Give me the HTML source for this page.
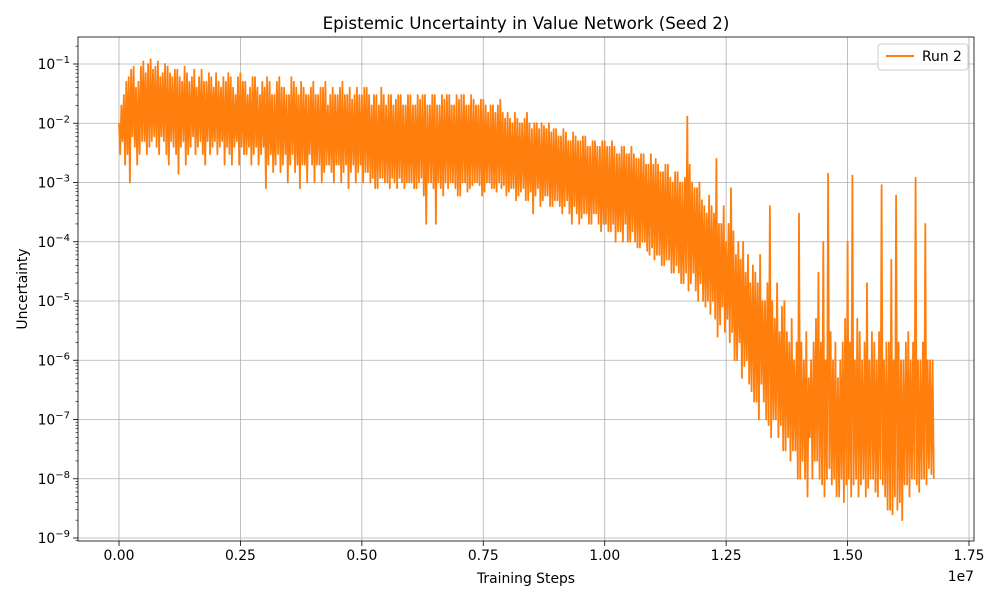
<!DOCTYPE html>
<html><head><meta charset="utf-8">
<style>
body{margin:0;background:#fff;width:1000px;height:600px;overflow:hidden}
svg text{font-family:"DejaVu Sans","Liberation Sans",sans-serif;fill:#000}
</style></head>
<body>
<svg id="chart" width="1000" height="600" viewBox="0 0 1000 600" xmlns="http://www.w3.org/2000/svg">
<rect x="0" y="0" width="1000" height="600" fill="#fff"/>
<g id="grid"></g>
<g id="series"></g>
<g id="axes"></g>
<text x="526" y="29" font-size="16.7" text-anchor="middle">Epistemic Uncertainty in Value Network (Seed 2)</text>
<text x="526" y="583" font-size="13.9" text-anchor="middle">Training Steps</text>
<text x="27" y="289" font-size="13.9" text-anchor="middle" transform="rotate(-90 27 289)">Uncertainty</text>
<text x="974" y="581" font-size="13.9" text-anchor="end">1e7</text>
<g>
<rect x="878" y="44" width="90" height="26" rx="3" fill="#fff" fill-opacity="0.8" stroke="#ccc"/>
<line x1="886" y1="56" x2="914" y2="56" stroke="#ff7f0e" stroke-width="2"/>
<text x="922" y="61" font-size="13.9">Run 2</text>
</g>
</svg>
<script>
const xTicks=[0,0.25,0.5,0.75,1.0,1.25,1.5,1.75];
const xTickLabels=["0.00","0.25","0.50","0.75","1.00","1.25","1.50","1.75"];
const yTickExps=[-1,-2,-3,-4,-5,-6,-7,-8,-9];
const stepSize=1e5;
const hiValues=[1e-2,3e-2,6e-2,9e-2,5e-2,1.1e-1,1e-1,8e-2,1.1e-1,7e-2,
9e-2,6e-2,8e-2,5e-2,7e-2,6e-2,4e-2,8e-2,5e-2,6e-2,
7e-2,4e-2,5e-2,6e-2,3e-2,7e-2,5e-2,4e-2,6e-2,3e-2,
4e-2,5e-2,3e-2,6e-2,4e-2,3e-2,5e-2,3e-2,4e-2,3e-2,
5e-2,3e-2,4e-2,2e-2,4e-2,3e-2,5e-2,3e-2,2.5e-2,4e-2,
3e-2,4e-2,2e-2,3e-2,4e-2,2e-2,3e-2,2.5e-2,3e-2,2e-2,
3e-2,2e-2,2.5e-2,3e-2,2e-2,3e-2,2e-2,2.5e-2,3e-2,2e-2,
2.5e-2,3e-2,2e-2,2.5e-2,2e-2,2.5e-2,1.5e-2,2e-2,2e-2,1.5e-2,
1.5e-2,1e-2,1.2e-2,1e-2,1.5e-2,8e-3,1e-2,1e-2,8e-3,7e-3,
8e-3,6e-3,7e-3,5e-3,6e-3,5e-3,6e-3,4e-3,5e-3,4e-3,
5e-3,4e-3,4e-3,3e-3,4e-3,3e-3,3e-3,2.5e-3,3e-3,2e-3,
2e-3,2e-3,1.5e-3,2e-3,1e-3,1.5e-3,1e-3,1.3e-2,1e-3,8e-4,
5e-4,3e-4,4e-4,2.5e-3,2e-4,1e-4,8e-4,6e-5,5e-5,3e-5,
2e-5,3e-5,6e-5,1e-5,4e-4,5e-6,3e-6,1e-5,2e-6,1e-6,
3e-4,1e-6,5e-7,2e-6,3e-5,1e-4,1.4e-3,1e-6,5e-7,2e-6,
1e-4,1.3e-3,5e-6,1e-6,2e-5,3e-6,1e-6,9e-4,2e-6,5e-5,
6e-4,1e-6,2e-6,1e-6,1.2e-3,1e-6,2e-4,1e-6];
const loValues=[3e-3,2e-3,1e-3,4e-3,3e-3,5e-3,4e-3,6e-3,3e-3,5e-3,
2e-3,4e-3,1.4e-3,5e-3,3e-3,6e-3,4e-3,3e-3,5e-3,4e-3,
3e-3,5e-3,4e-3,2e-3,5e-3,4e-3,3e-3,2e-3,4e-3,3e-3,
8e-4,3e-3,2e-3,1.5e-3,3e-3,2e-3,1.5e-3,8e-4,2e-3,3e-3,
1e-3,2e-3,1.5e-3,2e-3,1e-3,2e-3,1.5e-3,8e-4,2e-3,1.5e-3,
1e-3,1.5e-3,1.2e-3,8e-4,1.2e-3,1e-3,1.2e-3,8e-4,1e-3,1e-3,
1e-3,8e-4,1.2e-3,2e-4,1e-3,2e-4,8e-4,1e-3,1e-3,8e-4,
6e-4,1e-3,8e-4,1e-3,9e-4,7e-4,1e-3,8e-4,1e-3,9e-4,
7e-4,8e-4,6e-4,8e-4,5e-4,3e-4,8e-4,5e-4,6e-4,4e-4,
5e-4,3e-4,5e-4,2e-4,3e-4,2.5e-4,3e-4,2e-4,3e-4,1.5e-4,
2e-4,1.5e-4,1e-4,1.5e-4,2e-4,1e-4,1e-4,8e-5,1e-4,6e-5,
5e-5,6e-5,4e-5,5e-5,3e-5,3e-5,2e-5,1.5e-5,3e-5,1e-5,
1e-5,1e-5,1e-5,2.5e-6,8e-6,5e-6,3e-6,1e-6,5e-7,1e-6,
3e-7,2e-7,4e-7,1e-7,5e-8,1e-7,8e-8,3e-8,2e-8,3e-8,
1e-8,1e-8,5e-8,2e-8,1e-8,5e-9,1.5e-8,1e-8,5e-9,4e-9,
1e-8,8e-9,5e-9,1e-8,7e-9,1e-8,5e-9,8e-9,3e-9,2.5e-9,
3e-9,2e-9,8e-9,1e-8,8e-9,1e-8,8e-9,1.2e-8];
const hi2Values=[2e-2,5e-2,8e-2,4e-2,9e-2,7e-2,1.2e-1,9e-2,6e-2,1e-1,
7e-2,8e-2,6e-2,9e-2,5e-2,8e-2,6e-2,5e-2,7e-2,4e-2,
5e-2,6e-2,7e-2,4e-2,6e-2,5e-2,3e-2,6e-2,4e-2,5e-2,
6e-2,3e-2,5e-2,4e-2,3e-2,6e-2,4e-2,5e-2,3e-2,4e-2,
3e-2,4e-2,5e-2,3e-2,3e-2,4e-2,3e-2,4e-2,3e-2,3e-2,
4e-2,3e-2,3e-2,2e-2,3e-2,3e-2,2e-2,3e-2,2e-2,3e-2,
2e-2,3e-2,3e-2,2e-2,3e-2,2e-2,3e-2,3e-2,2e-2,3e-2,
3e-2,2e-2,3e-2,2e-2,2.5e-2,2e-2,2e-2,1.5e-2,2.5e-2,1.2e-2,
1.2e-2,1.5e-2,1e-2,1.2e-2,1e-2,1e-2,8e-3,9e-3,1e-2,8e-3,
6e-3,8e-3,5e-3,7e-3,5e-3,6e-3,4e-3,5e-3,4e-3,5e-3,
4e-3,5e-3,3e-3,4e-3,3e-3,4e-3,2.5e-3,3e-3,2e-3,3e-3,
2.5e-3,1.5e-3,2e-3,1.2e-3,1.5e-3,1e-3,1.2e-3,2e-3,8e-4,1e-3,
4e-4,6e-4,3e-4,2e-4,4e-4,2e-4,1.5e-4,1e-4,1e-4,6e-5,
4e-5,2e-5,1e-5,2e-5,1e-5,2e-5,8e-6,3e-6,5e-6,2e-6,
2e-6,3e-6,1e-6,5e-6,2e-6,1e-6,3e-6,2e-6,1e-6,5e-6,
2e-6,1e-6,3e-6,2e-6,1e-6,2e-6,3e-6,1e-6,2e-6,1e-6,
2e-6,1e-6,3e-6,2e-6,1e-6,2e-6,1e-6,1e-6];
const lo2Values=[5e-3,3e-3,6e-3,2e-3,5e-3,3e-3,5e-3,4e-3,6e-3,3e-3,
5e-3,3e-3,4e-3,2e-3,4e-3,3e-3,5e-3,2e-3,3e-3,5e-3,
4e-3,2e-3,3e-3,4e-3,2e-3,3e-3,4e-3,3e-3,2e-3,4e-3,
2e-3,1.5e-3,3e-3,2e-3,1e-3,3e-3,2e-3,2e-3,1e-3,2e-3,
2e-3,1e-3,2e-3,1.5e-3,2e-3,1e-3,2e-3,1.5e-3,1e-3,2e-3,
1.5e-3,1e-3,8e-4,1.2e-3,1e-3,8e-4,1e-3,1.2e-3,8e-4,1e-3,
8e-4,1e-3,6e-4,1e-3,8e-4,1e-3,6e-4,8e-4,1e-3,6e-4,
1e-3,7e-4,9e-4,1e-3,6e-4,1e-3,8e-4,7e-4,8e-4,6e-4,
8e-4,5e-4,7e-4,5e-4,7e-4,6e-4,4e-4,6e-4,4e-4,5e-4,
4e-4,4e-4,3e-4,4e-4,2e-4,3e-4,2e-4,3e-4,2e-4,2e-4,
1.5e-4,2e-4,1.5e-4,1e-4,1e-4,1.5e-4,8e-5,1e-4,7e-5,8e-5,
6e-5,4e-5,5e-5,3e-5,4e-5,2e-5,3e-5,2e-5,1.5e-5,2e-5,
8e-6,6e-6,5e-6,4e-6,3e-6,2e-6,1e-6,2e-6,8e-7,4e-7,
2e-7,1e-7,2e-7,8e-8,1e-7,5e-8,3e-8,5e-8,3e-8,1e-8,
2e-8,5e-9,1e-8,2e-8,8e-9,1e-8,8e-9,5e-9,1e-8,8e-9,
5e-9,1e-8,8e-9,5e-9,1e-8,6e-9,1e-8,5e-9,3e-9,5e-9,
4e-9,8e-9,5e-9,1e-8,6e-9,1e-8,1.5e-8,1e-8];

const NS="http://www.w3.org/2000/svg";
const L=78,R=974,T=37,B=541;
const x0px=119,pxPer1e7=(969-119)/1.75;
function xScale(v){return x0px+v/1e7*pxPer1e7;}
const y1px=64,pxPerDec=(538-64)/8;
function yScale(v){return y1px+(-1-Math.log10(v))*pxPerDec;}
function mk(tag,attrs,parent){const e=document.createElementNS(NS,tag);for(const k in attrs)e.setAttribute(k,attrs[k]);parent.appendChild(e);return e;}
const grid=document.getElementById('grid'),axes=document.getElementById('axes'),series=document.getElementById('series');

xTicks.forEach((t,i)=>{
  const x=xScale(t*1e7);
  const g=mk('line',{x1:x,x2:x,y1:T,y2:B,stroke:'#b0b0b0','stroke-width':0.8},grid);
  
  
  const tk=mk('line',{x1:x,x2:x,y1:B,y2:B+5,stroke:'#000','stroke-width':0.8},axes);
  
  
  const lb=mk('text',{x:x,y:B+19,'font-size':13.9,'text-anchor':'middle'},axes);
  lb.textContent=xTickLabels[i];
  
  
});
yTickExps.forEach(e=>{
  const y=yScale(Math.pow(10,e));
  const g=mk('line',{x1:L,x2:R,y1:y,y2:y,stroke:'#b0b0b0','stroke-width':0.8},grid);
  
  
  const tk=mk('line',{x1:L-5,x2:L,y1:y,y2:y,stroke:'#000','stroke-width':0.8},axes);
  
  
  const lb=mk('text',{x:L-8,y:y+5,'font-size':13.9,'text-anchor':'end'},axes);
  lb.innerHTML='10<tspan dy="-6" font-size="10">\u2212'+(-e)+'</tspan>';
  
  
  for(let m=2;m<=9;m++){
    const ym=yScale(m*Math.pow(10,e-1));
    if(ym<T||ym>B)continue;
    const mt=mk('line',{x1:L-2.5,x2:L,y1:ym,y2:ym,stroke:'#000','stroke-width':0.6},axes);
    
    
  }
});
for(let m=2;m<=3;m++){const ym=yScale(m*0.1);if(ym>=T){const mt=mk('line',{x1:L-2.5,x2:L,y1:ym,y2:ym,stroke:'#000','stroke-width':0.6},axes);}}

let pts=[];
hiValues.forEach((v,i)=>{
  pts.push(xScale(i*stepSize).toFixed(1)+','+yScale(v).toFixed(1));
  if(i<loValues.length)pts.push(xScale(i*stepSize+stepSize*0.25).toFixed(1)+','+yScale(loValues[i]).toFixed(1));
  if(i<hi2Values.length)pts.push(xScale(i*stepSize+stepSize*0.5).toFixed(1)+','+yScale(hi2Values[i]).toFixed(1));
  if(i<lo2Values.length)pts.push(xScale(i*stepSize+stepSize*0.75).toFixed(1)+','+yScale(lo2Values[i]).toFixed(1));
});
const pl=mk('polyline',{points:pts.join(' '),fill:'none',stroke:'#ff7f0e','stroke-width':1.8,'stroke-linejoin':'round'},series);



const frame=mk('rect',{x:L,y:T,width:R-L,height:B-T,fill:'none',stroke:'#000','stroke-width':0.8},axes);


</script>
</body></html>
